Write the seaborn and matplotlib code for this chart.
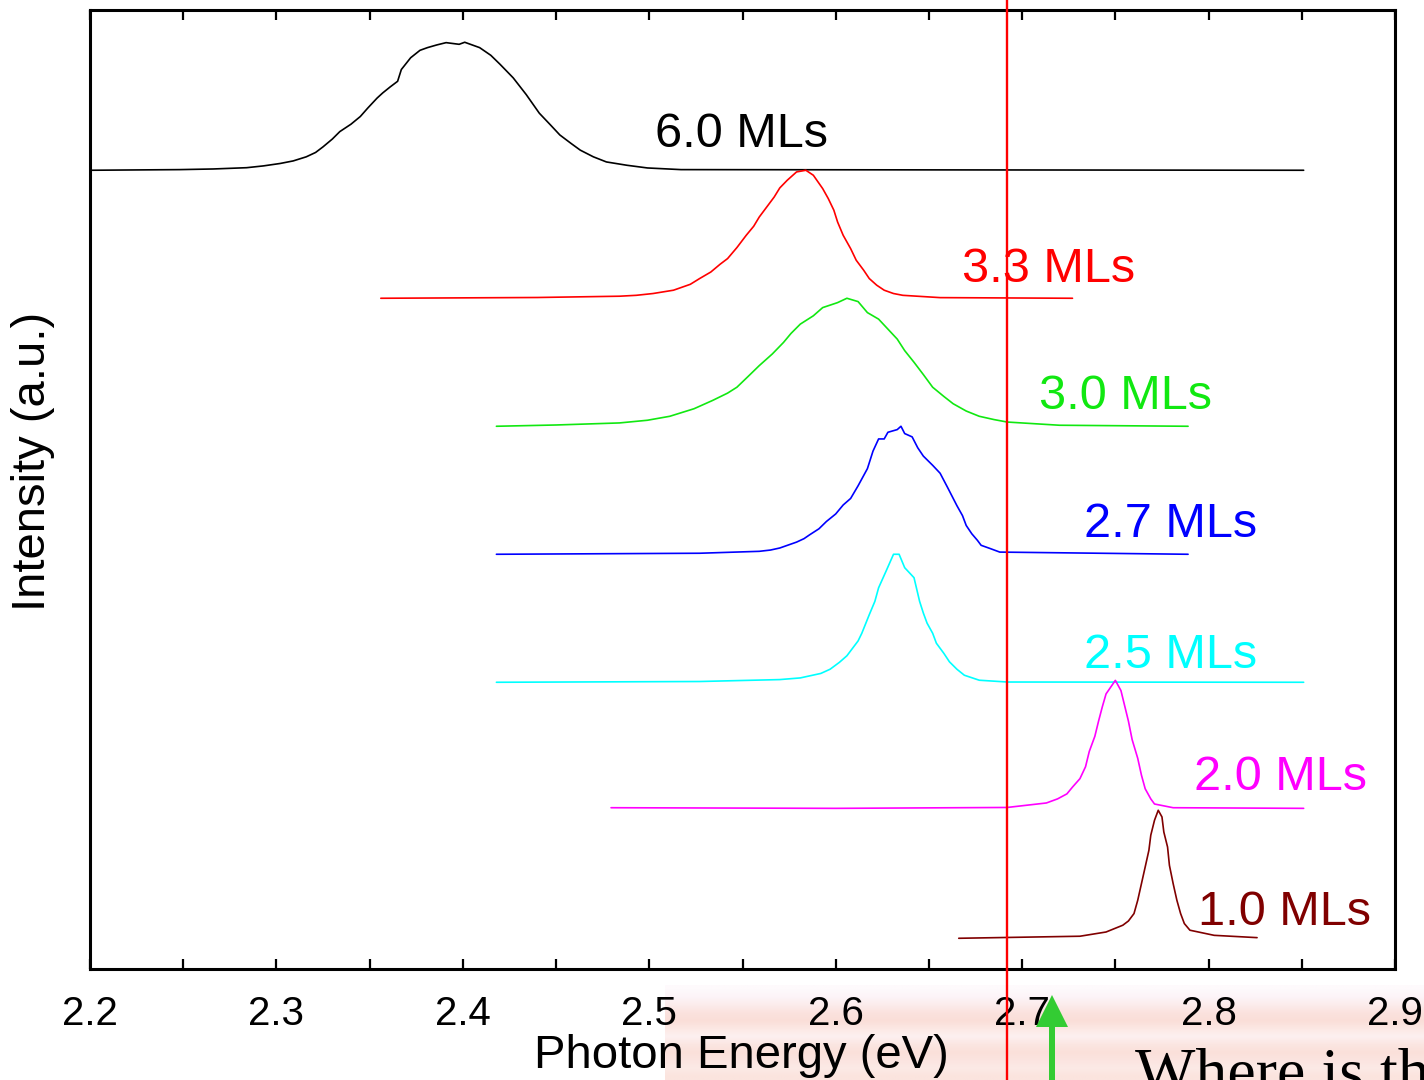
import numpy as np
import pandas as pd
import matplotlib
matplotlib.use("Agg")
import matplotlib.pyplot as plt
import seaborn as sns
from matplotlib.patches import Polygon
from matplotlib.ticker import MultipleLocator

# ---------------- data ----------------
labels = ["6.0 MLs", "3.3 MLs", "3.0 MLs", "2.7 MLs", "2.5 MLs", "2.0 MLs", "1.0 MLs"]
colors = ["#000000", "#ff0000", "#11e811", "#0000ff", "#00ffff", "#ff00ff", "#800000"]
offsets = [6.0, 5.0, 4.0, 3.0, 2.0, 1.02, 0.0]

e_60 = [2.200, 2.248, 2.266, 2.284, 2.293, 2.302, 2.309, 2.316, 2.321, 2.325,
        2.330, 2.334, 2.340, 2.345, 2.349, 2.354, 2.357, 2.361, 2.365, 2.367,
        2.372, 2.377, 2.381, 2.386, 2.391, 2.398, 2.401, 2.409, 2.415, 2.420,
        2.427, 2.434, 2.441, 2.447, 2.452, 2.458, 2.463, 2.470, 2.477, 2.488,
        2.499, 2.517, 2.851]
i_60 = [0.0, 0.005, 0.010, 0.02, 0.034, 0.053, 0.073, 0.105, 0.139, 0.183,
        0.244, 0.302, 0.36, 0.420, 0.486, 0.564, 0.604, 0.651, 0.695, 0.787,
        0.879, 0.937, 0.958, 0.979, 0.997, 0.984, 1.0, 0.958, 0.898, 0.827,
        0.722, 0.591, 0.446, 0.354, 0.276, 0.21, 0.157, 0.105, 0.065, 0.039,
        0.018, 0.005, 0.0]

e_33 = [2.356, 2.440, 2.484, 2.493, 2.502, 2.513, 2.522, 2.527, 2.533, 2.538, 2.542,
        2.547, 2.552, 2.556, 2.559, 2.563, 2.567, 2.570, 2.574, 2.579, 2.584,
        2.588, 2.593, 2.596, 2.599, 2.601, 2.604, 2.608, 2.611, 2.615, 2.618,
        2.622, 2.626, 2.631, 2.636, 2.656, 2.727]
i_33 = [0.0, 0.006, 0.016, 0.023, 0.037, 0.063, 0.109, 0.154, 0.205, 0.266, 0.310,
        0.396, 0.492, 0.5625, 0.635, 0.713, 0.791, 0.862, 0.922, 0.987, 1.0,
        0.961, 0.857, 0.779, 0.688, 0.596, 0.492, 0.388, 0.297, 0.219, 0.154,
        0.102, 0.063, 0.037, 0.023, 0.005, 0.0]

e_30 = [2.418, 2.450, 2.484, 2.499, 2.511, 2.524, 2.534, 2.542, 2.547, 2.553, 2.559,
        2.566, 2.572, 2.576, 2.581, 2.588, 2.593, 2.601, 2.606, 2.612, 2.617,
        2.623, 2.628, 2.633, 2.637, 2.642, 2.647, 2.652, 2.658, 2.663, 2.670,
        2.677, 2.685, 2.692, 2.720, 2.789]
i_30 = [0.0, 0.01, 0.026, 0.047, 0.078, 0.137, 0.202, 0.259, 0.305, 0.389, 0.474,
        0.565, 0.655, 0.725, 0.798, 0.863, 0.927, 0.966, 1.0, 0.974, 0.888,
        0.837, 0.759, 0.681, 0.591, 0.500, 0.404, 0.305, 0.233, 0.176, 0.119,
        0.078, 0.052, 0.033, 0.008, 0.0]

e_27 = [2.418, 2.527, 2.559, 2.565, 2.570, 2.579, 2.583, 2.586, 2.591, 2.595,
        2.600, 2.604, 2.608, 2.612, 2.617, 2.620, 2.623, 2.626, 2.628, 2.633,
        2.635, 2.637, 2.641, 2.644, 2.647, 2.652, 2.656, 2.660, 2.665, 2.668,
        2.670, 2.673, 2.676, 2.678, 2.683, 2.688, 2.789]
i_27 = [0.0, 0.008, 0.023, 0.033, 0.049, 0.095, 0.122, 0.152, 0.199, 0.256,
        0.315, 0.385, 0.436, 0.535, 0.669, 0.806, 0.901, 0.901, 0.953, 0.974,
        1.0, 0.943, 0.917, 0.832, 0.767, 0.695, 0.633, 0.522, 0.380, 0.302,
        0.225, 0.160, 0.109, 0.070, 0.044, 0.017, 0.0]

e_25 = [2.418, 2.527, 2.570, 2.581, 2.592, 2.597, 2.602, 2.606, 2.609, 2.612,
        2.614, 2.618, 2.621, 2.623, 2.627, 2.631, 2.634, 2.637, 2.642, 2.645,
        2.647, 2.649, 2.652, 2.654, 2.658, 2.661, 2.665, 2.669, 2.677, 2.692, 2.851]
i_25 = [0.0, 0.006, 0.021, 0.034, 0.069, 0.102, 0.156, 0.207, 0.265, 0.323,
        0.383, 0.528, 0.632, 0.738, 0.868, 1.0, 1.0, 0.895, 0.817, 0.632,
        0.541, 0.462, 0.383, 0.305, 0.226, 0.160, 0.102, 0.055, 0.016, 0.002, 0.0]

e_20 = [2.4795, 2.600, 2.692, 2.713, 2.719, 2.724, 2.727, 2.731, 2.734, 2.736,
        2.739, 2.741, 2.743, 2.745, 2.750, 2.753, 2.755, 2.757, 2.759, 2.762,
        2.764, 2.766, 2.769, 2.771, 2.781, 2.851]
i_20 = [0.0, -0.005, 0.002, 0.037, 0.069, 0.108, 0.161, 0.227, 0.32, 0.439,
        0.558, 0.677, 0.788, 0.889, 0.995, 0.915, 0.796, 0.677, 0.532, 0.386,
        0.254, 0.148, 0.069, 0.029, 0.0, -0.005]

e_10 = [2.666, 2.731, 2.745, 2.754, 2.757, 2.760, 2.762, 2.764, 2.766, 2.768,
        2.769, 2.771, 2.773, 2.775, 2.776, 2.778, 2.779, 2.781, 2.783, 2.785,
        2.787, 2.790, 2.803, 2.826]
i_10 = [0.0, 0.016, 0.049, 0.102, 0.135, 0.193, 0.297, 0.427, 0.557, 0.688,
        0.805, 0.922, 1.0, 0.948, 0.83, 0.713, 0.570, 0.427, 0.297, 0.193,
        0.115, 0.063, 0.023, 0.005]

energies = [e_60, e_33, e_30, e_27, e_25, e_20, e_10]
intens = [i_60, i_33, i_30, i_27, i_25, i_20, i_10]

x_ticks = [2.2, 2.3, 2.4, 2.5, 2.6, 2.7, 2.8, 2.9]
x_ticklabels = ["2.2", "2.3", "2.4", "2.5", "2.6", "2.7", "2.8", "2.9"]
ref_energy = 2.692

# label positions (data coords, left edge x, baseline y)
label_x = [2.503, 2.668, 2.709, 2.733, 2.733, 2.792, 2.7945]
label_y = [6.18, 5.127, 4.135, 3.135, 2.112, 1.158, 0.104]

# ---------------- figure ----------------
sns.set_theme(style="white")
plt.rcParams["font.family"] = ["Liberation Sans", "DejaVu Sans"]

W, H = 1424, 1080
fig = plt.figure(figsize=(W / 100, H / 100), dpi=100)
fig.patch.set_facecolor("white")

# pale pink slide background at lower right
bg = fig.add_axes([665 / W, 0, (W - 665) / W, 95 / H], zorder=-5)
rows = np.array([
    [254, 250, 252], [253, 244, 248], [252, 236, 236], [251, 226, 222], [250, 222, 216],
    [252, 232, 228], [253, 240, 240], [251, 230, 226], [250, 224, 218], [251, 228, 224],
    [252, 234, 230], [251, 228, 222],
]) / 255.0
img = np.repeat(rows[:, None, :], 8, axis=1)
bg.imshow(img, aspect="auto", interpolation="bilinear", extent=[0, 1, 0, 1])
bg.set_axis_off()

ax = fig.add_axes([90 / W, (H - 969) / H, (1395 - 90) / W, (969 - 10) / H], zorder=0)
ax.set_facecolor("white")

for lab, col, off, e, it in zip(labels, colors, offsets, energies, intens):
    df = pd.DataFrame({"E": e, "I": np.array(it) + off})
    sns.lineplot(data=df, x="E", y="I", color=col, linewidth=1.2, ax=ax,
                 estimator=None, sort=False)

for lab, col, lx, ly in zip(labels, colors, label_x, label_y):
    ax.text(lx, ly, lab, color=col, fontsize=35, ha="left", va="baseline", zorder=4)

ax.axvline(ref_energy, ymin=-0.12, ymax=1.02, color="#ff0000", linewidth=1.7,
           clip_on=False, zorder=6)

ax.set_xlim(2.2, 2.9)
ax.set_ylim(-0.24, 7.252)
ax.set_xticks(x_ticks)
ax.set_xticklabels(x_ticklabels)
ax.xaxis.set_minor_locator(MultipleLocator(0.05))
ax.set_yticks([])
ax.set_xlabel("")
ax.set_ylabel("")
ax.tick_params(axis="x", which="both", direction="in", top=True, bottom=True,
               length=7, width=1.6, color="black", labelsize=29, pad=19,
               labelcolor="black")
for s in ax.spines.values():
    s.set_visible(True)
    s.set_color("black")
    s.set_linewidth(2.2)

fig.text(741 / W, 1 - 1068 / H, "Photon Energy (eV)", fontsize=34, ha="center",
         va="baseline", color="black")
fig.text(33 / W, 1 - 461 / H, "Intensity (a.u.)", fontsize=34, rotation=90,
         ha="center", va="center", color="black")

# green arrow and slide text
arrow = Polygon([(10.52, (H - 995) / 100), (10.36, (H - 1027) / 100),
                 (10.49, (H - 1027) / 100), (10.49, -0.1), (10.55, -0.1),
                 (10.55, (H - 1027) / 100), (10.68, (H - 1027) / 100)],
                closed=True, transform=fig.dpi_scale_trans, facecolor="#33cc33",
                edgecolor="none", zorder=7)
fig.add_artist(arrow)
fig.text(1135 / W, 1 - 1092 / H, "Where is th", fontsize=46,
         family=["Liberation Serif", "DejaVu Serif"], ha="left", va="baseline",
         color="black", zorder=7)

fig.savefig("out.png", dpi=100)
